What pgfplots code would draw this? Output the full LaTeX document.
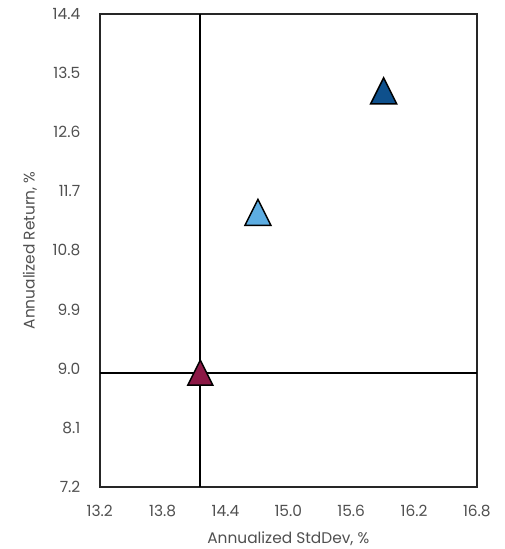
\documentclass[border=0pt]{standalone}
\usepackage{pgfplots}
\pgfplotsset{compat=1.18}
\usepackage{fontspec}
\setmainfont{Poppins}
\definecolor{txtgray}{HTML}{505050}
\definecolor{darkred}{HTML}{8C1946}
\definecolor{lightblue}{HTML}{5DADE2}
\definecolor{darkblue}{HTML}{0E508C}
\pgfdeclareplotmark{ctri}{%
  \pgfpathmoveto{\pgfqpoint{0pt}{\pgfplotmarksize}}%
  \pgfpathlineto{\pgfqpoint{-\pgfplotmarksize}{-\pgfplotmarksize}}%
  \pgfpathlineto{\pgfqpoint{\pgfplotmarksize}{-\pgfplotmarksize}}%
  \pgfpathclose
  \pgfusepathqfillstroke}
\begin{document}
\begin{tikzpicture}[x=1bp,y=1bp]
\begin{axis}[
  at={(0,0)}, anchor=south west,
  scale only axis, width=378bp, height=474bp,
  xmin=13.2, xmax=16.8, ymin=7.2, ymax=14.4,
  xtick={13.2,13.8,14.4,15.0,15.6,16.2,16.8},
  ytick={7.2,8.1,9.0,9.9,10.8,11.7,12.6,13.5,14.4},
  xticklabel style={/pgf/number format/.cd,fixed,fixed zerofill,precision=1},
  yticklabel style={/pgf/number format/.cd,fixed,fixed zerofill,precision=1},
  /pgf/number format/assume math mode=true,
  tick label style={font=\fontsize{15.5}{18}\selectfont, text=txtgray},
  major tick length=0pt,
  xticklabel shift=15bp, yticklabel shift=16bp,
  axis line style={line width=2bp, color=black!85},
  xlabel={Annualized StdDev, \%}, ylabel={Annualized Return, \%},
  label style={font=\fontsize{15.5}{18}\selectfont, text=txtgray},
  xlabel style={at={(0.5,0)}, anchor=center, yshift=-52bp},
  ylabel style={at={(0,0.5)}, anchor=center, yshift=70bp},
  clip=false,
]
\draw[line width=1.9bp, black] (axis cs:14.16,7.2) -- (axis cs:14.16,14.4);
\draw[line width=1.9bp, black] (axis cs:13.2,8.94) -- (axis cs:16.8,8.94);
\addplot[only marks, mark=ctri, mark size=12.5bp, fill=darkred, draw=black, line width=1.5bp] coordinates {(14.16,8.94)};
\addplot[only marks, mark=ctri, mark size=13bp, fill=lightblue, draw=black, line width=1.5bp] coordinates {(14.71,11.38)};
\addplot[only marks, mark=ctri, mark size=13bp, fill=darkblue, draw=black, line width=1.5bp] coordinates {(15.91,13.23)};
\end{axis}
\path[use as bounding box] (-100bp,-61bp) rectangle (406bp,488bp);
\end{tikzpicture}
\end{document}
